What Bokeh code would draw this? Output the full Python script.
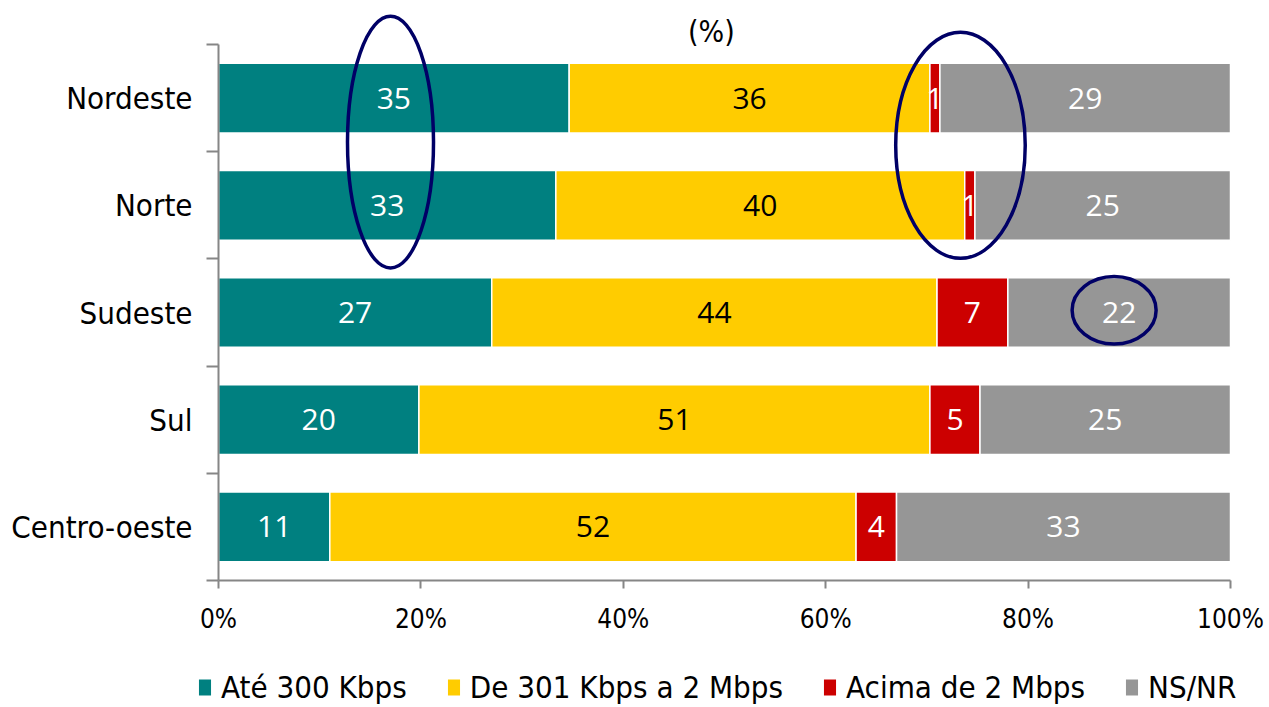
from bokeh.plotting import figure
from bokeh.models import (Range1d, FixedTicker, PrintfTickFormatter, Legend,
                          LegendItem, Label, ColumnDataSource)
from bokeh.core.properties import value
from bokeh.embed import file_html
from bokeh.resources import INLINE

# ---------------- data ----------------
regions = ["Nordeste", "Norte", "Sudeste", "Sul", "Centro-oeste"]
series_names = ["Até 300 Kbps", "De 301 Kbps a 2 Mbps", "Acima de 2 Mbps", "NS/NR"]
ate_300 = [35, 33, 27, 20, 11]
de_301_a_2m = [36, 40, 44, 51, 52]
acima_2m = [1, 1, 7, 5, 4]
ns_nr = [29, 25, 22, 25, 33]
x_ticks = [0, 20, 40, 60, 80, 100]
title_text = "(%)"

# ---------------- style / layout ----------------
colors = ["#008080", "#FFCC00", "#CC0000", "#969696"]
label_colors = ["white", "black", "white", "white"]
CAT_FONT = "'DejaVu Sans Condensed', 'Liberation Sans Narrow', 'DejaVu Sans'"
NUM_FONT = "Open Sans"
AXIS_COLOR = "#868686"
ELLIPSE_COLOR = "#000066"

W, H = 1267, 705
PLOT_L, PLOT_R = 218, 1230      # pixel position of 0% and 100%
PLOT_T, PLOT_B = 44, 580        # pixel position of top / bottom of the bands

all_series = [ate_300, de_301_a_2m, acima_2m, ns_nr]
n = len(regions)
y_pos = [n - 0.5 - i for i in range(n)]  # Nordeste on top
x_max = 100.0
px_x = (PLOT_R - PLOT_L) / x_max
px_y = (PLOT_B - PLOT_T) / n
x_rng = Range1d(-PLOT_L / px_x, x_max + (W - PLOT_R) / px_x)
y_rng = Range1d(-(H - PLOT_B) / px_y, n + PLOT_T / px_y)

p = figure(width=W, height=H, output_backend="svg", toolbar_location=None,
           x_range=x_rng, y_range=y_rng, min_border=0,
           min_border_left=0, min_border_right=0, min_border_top=0,
           min_border_bottom=0, background_fill_color="white",
           border_fill_color="white", outline_line_color=None)
p.xgrid.visible = False
p.ygrid.visible = False

# normalized (100%) stacked segments
totals = [sum(s[i] for s in all_series) for i in range(n)]
lefts = [0.0] * n
centers = []
renderers = []
for k, s in enumerate(all_series):
    left = list(lefts)
    right = [lefts[i] + s[i] * x_max / totals[i] for i in range(n)]
    src = ColumnDataSource(dict(y=y_pos, left=left, right=right))
    r = p.hbar(y="y", left="left", right="right", height=0.65, source=src,
               fill_color=colors[k], line_color="white", line_width=1.5)
    renderers.append(r)
    cx = [(left[i] + right[i]) / 2 for i in range(n)]
    centers.append(cx)
    tsrc = ColumnDataSource(dict(x=cx, y=y_pos, t=[str(v) for v in s]))
    p.text(x="x", y="y", text="t", source=tsrc, text_color=label_colors[k],
           text_font=value(NUM_FONT), text_font_size="30px",
           text_align="center", text_baseline="middle")
    lefts = right

# highlight ellipses (annotations derived from the data positions)
e_x = [(centers[0][0] + centers[0][1]) / 2,
       (centers[2][0] + centers[2][1]) / 2 + 0.8,
       centers[3][2] - 0.5]
e_y = [(y_pos[0] + y_pos[1]) / 2 + 0.09,
       (y_pos[0] + y_pos[1]) / 2 + 0.06,
       y_pos[2] + 0.02]
e_w = [8.5, 12.8, 8.3]
e_h = [2.35, 2.11, 0.63]
p.ellipse(x=e_x, y=e_y, width=e_w, height=e_h, fill_color=None,
          line_color=ELLIPSE_COLOR, line_width=3.5)

# x axis (drawn at y = 0)
xa = p.xaxis[0]
xa.fixed_location = 0
xa.bounds = (0, x_max)
xa.ticker = FixedTicker(ticks=x_ticks, minor_ticks=[])
xa.formatter = PrintfTickFormatter(format="%d%%")
xa.axis_line_color = AXIS_COLOR
xa.axis_line_width = 2
xa.major_tick_line_color = AXIS_COLOR
xa.major_tick_line_width = 2
xa.major_tick_in = 0
xa.major_tick_out = 8
xa.minor_tick_line_color = None
xa.major_label_standoff = 15
xa.major_label_text_font = CAT_FONT
xa.major_label_text_font_size = "26px"
xa.major_label_text_color = "black"

# y axis (drawn at x = 0; ticks between categories, labels at centres)
ya = p.yaxis[0]
ya.fixed_location = 0
ya.bounds = (0, n)
ya.ticker = FixedTicker(ticks=y_pos, minor_ticks=list(range(n + 1)))
ya.major_label_overrides = {y_pos[i]: regions[i] for i in range(n)}
ya.axis_line_color = AXIS_COLOR
ya.axis_line_width = 2
ya.major_tick_line_color = None
ya.major_tick_in = 0
ya.major_tick_out = 0
ya.minor_tick_line_color = AXIS_COLOR
ya.minor_tick_line_width = 2
ya.minor_tick_in = 0
ya.minor_tick_out = 12
ya.major_label_standoff = 14
ya.major_label_text_font = CAT_FONT
ya.major_label_text_font_size = "31px"
ya.major_label_text_color = "black"

# title
p.add_layout(Label(x=48.7, y=n + 0.12, text=title_text, text_font=CAT_FONT,
                   text_font_size="30px", text_align="center",
                   text_baseline="middle", text_color="black"))

# legend
items = [LegendItem(label=series_names[k], renderers=[renderers[k]]) for k in range(4)]
legend = Legend(items=items, orientation="horizontal", location=(196, 0),
                label_text_font=CAT_FONT, label_text_font_size="31px",
                label_text_color="black",
                glyph_width=17, glyph_height=22, label_standoff=8, spacing=38,
                padding=0, margin=0, border_line_color=None,
                background_fill_alpha=0)
p.add_layout(legend)

open("out.html", "w").write(file_html(p, INLINE))
